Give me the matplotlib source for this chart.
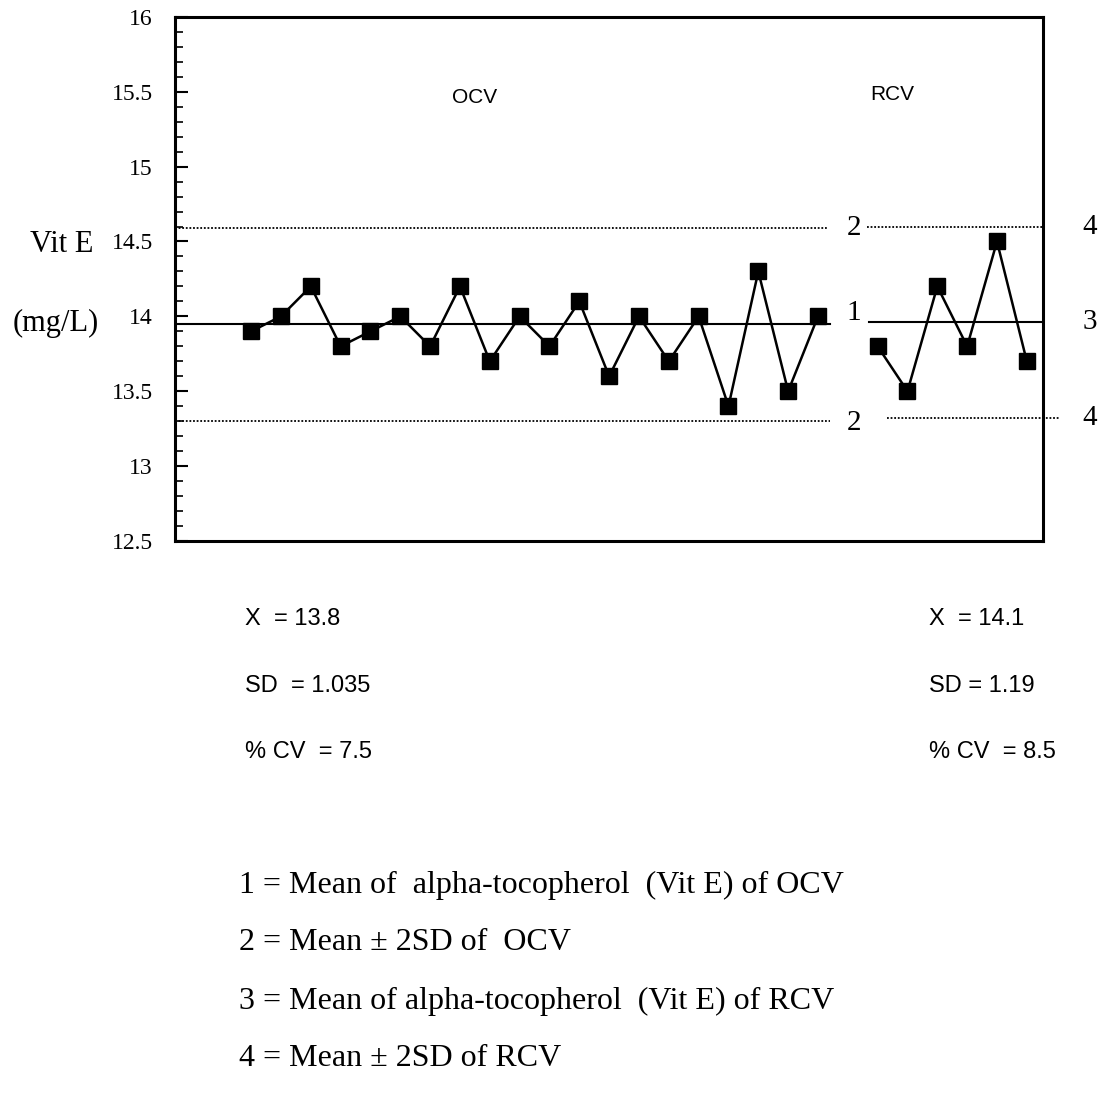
import matplotlib
matplotlib.use("Agg")
import matplotlib.pyplot as plt
from matplotlib.ticker import MultipleLocator

# Vit E control values (mg/L)
ocv_runs = list(range(0, 20))
ocv_values = [13.9, 14.0, 14.2, 13.8, 13.9, 14.0, 13.8, 14.2, 13.7, 14.0,
              13.8, 14.1, 13.6, 14.0, 13.7, 14.0, 13.4, 14.3, 13.5, 14.0]
rcv_runs = list(range(21, 27))
rcv_values = [13.8, 13.5, 14.2, 13.8, 14.5, 13.7]

# control limits
ocv_mean, ocv_low, ocv_high = 13.95, 13.30, 14.59
rcv_mean, rcv_low, rcv_high = 13.96, 13.32, 14.60

ocv_stats = ["X  = 13.8", "SD  = 1.035", "% CV  = 7.5"]
rcv_stats = ["X  = 14.1", "SD = 1.19", "% CV  = 8.5"]
notes = [
    "1 = Mean of  alpha-tocopherol  (Vit E) of OCV",
    "2 = Mean \u00b1 2SD of  OCV",
    "3 = Mean of alpha-tocopherol  (Vit E) of RCV",
    "4 = Mean \u00b1 2SD of RCV",
]

serif = "Liberation Serif"
sans = "Liberation Sans"

fig = plt.figure(figsize=(11.08, 10.99), dpi=100)
ax = fig.add_axes([0.158, 0.5077, 0.783, 0.477])

ax.set_xlim(-2.55, 26.53)
ax.set_ylim(12.5, 16)

# mean and +-2SD lines
dot = (0, (1, 1))
ax.plot([-2.55, 19.4], [ocv_mean] * 2, color="black", lw=1.5)
ax.plot([-2.55, 19.33], [ocv_high] * 2, color="black", lw=1.3, ls=dot)
ax.plot([-2.55, 19.4], [ocv_low] * 2, color="black", lw=1.3, ls=dot)
ax.plot([20.7, 26.53], [rcv_mean] * 2, color="black", lw=1.5)
ax.plot([20.64, 26.5], [rcv_high] * 2, color="black", lw=1.3, ls=dot)
ax.plot([21.3, 27.1], [rcv_low] * 2, color="black", lw=1.3, ls=dot,
        clip_on=False)

ax.plot(ocv_runs, ocv_values, color="black", lw=1.8, marker="s", ms=11.5)
ax.plot(rcv_runs, rcv_values, color="black", lw=1.8, marker="s", ms=11.5)

ax.text(7.5, 15.46, "OCV", fontsize=15, family=sans, ha="center", va="center")
ax.text(21.5, 15.48, "RCV", fontsize=15, family=sans, ha="center", va="center")

for y, s in [(ocv_high, "2"), (ocv_mean + 0.07, "1"), (ocv_low - 0.01, "2")]:
    ax.text(20.2, y, s, fontsize=21, family=serif, ha="center", va="center")
for y, s in [(rcv_high, "4"), (rcv_mean, "3"), (rcv_low, "4")]:
    ax.text(28.1, y, s, fontsize=21, family=serif, ha="center", va="center",
            clip_on=False)

ax.set_xticks([])
ax.yaxis.set_major_locator(MultipleLocator(0.5))
ax.yaxis.set_minor_locator(MultipleLocator(0.1))
ax.tick_params(axis="y", which="major", direction="in", length=9, width=1.5,
               labelsize=17, pad=16)
ax.tick_params(axis="y", which="minor", direction="in", length=6, width=1.2)
ax.set_yticklabels([f"{v:g}" for v in ax.get_yticks()], family=serif)
for sp in ax.spines.values():
    sp.set_linewidth(2.2)

fig.text(0.056, 1 - 244 / 1099, "Vit E", fontsize=22, family=serif,
         ha="center", va="center")
fig.text(0.05, 1 - 323 / 1099, "(mg/L)", fontsize=22, family=serif,
         ha="center", va="center")

stat_y = [1 - 619 / 1099, 1 - 686 / 1099, 1 - 752 / 1099]
for y, a, b in zip(stat_y, ocv_stats, rcv_stats):
    fig.text(0.221, y, a, fontsize=17, family=sans, va="center")
    fig.text(0.838, y, b, fontsize=17, family=sans, va="center")

note_y = [1 - 885 / 1099, 1 - 943 / 1099, 1 - 1001 / 1099, 1 - 1059 / 1099]
for y, s in zip(note_y, notes):
    fig.text(0.216, y, s, fontsize=23, family=serif, va="center")

fig.savefig("out.png", dpi=100)
